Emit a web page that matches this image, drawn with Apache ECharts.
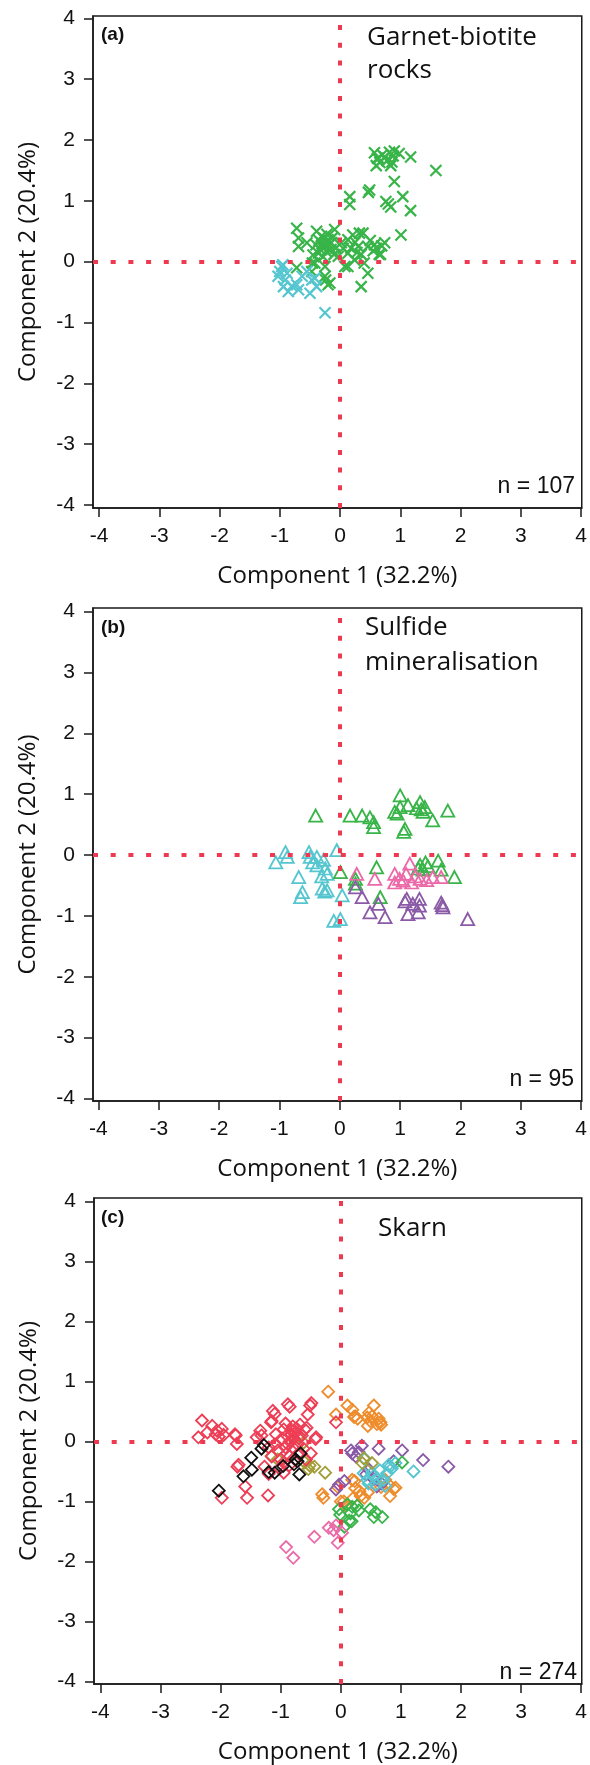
<!DOCTYPE html>
<html>
<head>
<meta charset="utf-8">
<script src="https://cdn.jsdelivr.net/npm/echarts@6/dist/echarts.min.js"></script>
<style>
html,body{margin:0;padding:0;background:#fff;}
#chart{width:590px;height:1765px;}
</style>
</head>
<body>
<div id="chart"></div>
<script>
// ---------- DATA ----------
const tickValues = [-4, -3, -2, -1, 0, 1, 2, 3, 4];
const xTitle = 'Component 1 (32.2%)';
const yTitle = 'Component 2 (20.4%)';
const panelLabels = ['(a)', '(b)', '(c)'];
const panelTitles = [['Garnet-biotite', 'rocks'], ['Sulfide', 'mineralisation'], ['Skarn']];
const panelCounts = ['n = 107', 'n = 95', 'n = 274'];

// Panel (a) Garnet-biotite rocks (crosses)
const aGreen = [
  [0.57,1.79],[0.62,1.70],[0.70,1.76],[0.66,1.63],[0.74,1.72],[0.82,1.80],[0.90,1.82],[0.98,1.78],
  [0.60,1.58],[0.78,1.66],[0.86,1.64],[0.88,1.74],[0.64,1.70],[0.84,1.58],[1.17,1.72],[1.59,1.50],
  [0.90,1.32],[0.49,1.18],[0.47,1.14],[0.16,1.07],[0.16,0.94],[0.76,0.99],[0.84,0.90],[0.80,0.95],
  [1.04,1.07],[1.17,0.84],[1.01,0.44],
  [-0.72,0.55],[-0.69,0.39],[-0.69,0.25],[-0.55,0.31],[-0.39,0.50],[-0.31,0.42],[-0.20,0.36],[-0.09,0.53],
  [-0.25,0.25],[-0.36,0.14],[-0.15,0.20],[0.02,0.31],[0.13,0.36],[0.21,0.44],[0.38,0.47],[0.30,0.25],
  [0.46,0.25],[0.57,0.28],[0.74,0.31],[0.65,0.12],[0.13,0.14],[0.35,0.12],[-0.03,0.09],[0.08,-0.08],
  [-0.25,-0.08],[-0.42,-0.02],[-0.47,-0.16],[-0.72,-0.10],[-0.25,-0.24],[-0.17,-0.35],[0.46,-0.19],
  [0.35,-0.41],[0.13,-0.08],[0.24,0.03],[0.40,-0.02],[-0.31,0.25],[-0.23,0.17],[-0.15,0.31],[-0.07,0.22],
  [-0.28,0.08],[-0.45,0.11],[0.69,0.26],[0.67,0.12],[0.32,0.47],[-0.24,-0.30],[-0.20,-0.38],[-0.46,-0.02],
  [-0.35,0.35],[-0.30,0.30],[-0.26,0.38],[-0.33,0.20],[-0.18,0.28],[-0.12,0.40],[-0.40,0.28],[-0.22,0.45],
  [0.05,0.22],[0.18,0.22],[0.25,0.32],[0.28,0.15],[0.55,0.18],[0.50,0.35],[0.60,0.22],[-0.10,0.12]
];
const aCyan = [
  [-0.97,-0.08],[-1.00,-0.16],[-1.03,-0.24],[-0.88,-0.19],[-0.94,-0.41],[-0.86,-0.49],[-0.72,-0.38],
  [-0.69,-0.46],[-0.55,-0.16],[-0.50,-0.52],[-0.39,-0.41],[-0.42,-0.27],[-0.47,-0.30],[-0.25,-0.84],
  [-0.91,-0.30],[-0.63,-0.24],[-0.95,-0.05],[-0.80,-0.40]
];

// Panel (b) Sulfide mineralisation (triangles)
const bCyan = [
  [-1.06,-0.12],[-0.90,0.05],[-0.87,-0.03],[-0.51,0.05],[-0.49,-0.03],[-0.38,-0.03],[-0.38,-0.17],
  [-0.27,-0.08],[-0.24,-0.22],[-0.21,-0.31],[-0.05,0.08],[-0.68,-0.36],[-0.62,-0.61],[-0.65,-0.69],
  [-0.29,-0.55],[-0.21,-0.58],[0.04,-0.66],[-0.10,-1.08],[0.01,-1.05],[-0.45,-0.12],[-0.30,-0.35],[-0.25,-0.60]
];
const bGreen = [
  [-0.40,0.65],[0.17,0.65],[0.37,0.65],[0.50,0.62],[0.56,0.54],[0.56,0.46],[1.00,0.98],[0.91,0.71],
  [1.00,0.79],[1.13,0.82],[1.33,0.87],[1.41,0.79],[1.38,0.71],[1.54,0.57],[1.79,0.73],[1.08,0.43],
  [1.06,0.38],[1.27,0.77],[0.95,0.68],[1.35,0.75],
  [0.01,-0.28],[0.26,-0.39],[0.26,-0.47],[0.61,-0.20],[0.67,-0.69],[1.33,-0.16],[1.46,-0.18],
  [1.63,-0.09],[1.38,-0.24],[1.90,-0.36],[1.68,-0.24],[1.30,-0.22],[1.42,-0.12]
];
const bPink = [
  [0.28,-0.31],[0.58,-0.39],[0.91,-0.31],[0.91,-0.45],[0.99,-0.39],[1.16,-0.14],[1.19,-0.45],
  [1.33,-0.39],[1.54,-0.36],[1.68,-0.36],[1.10,-0.31],[1.44,-0.41],[1.05,-0.42],[1.25,-0.35]
];
const bPurple = [
  [0.26,-0.53],[0.37,-0.69],[0.50,-0.94],[0.64,-0.80],[0.75,-1.02],[1.11,-0.72],[1.13,-0.97],
  [1.30,-0.94],[1.32,-0.72],[1.32,-0.83],[1.68,-0.78],[1.71,-0.86],[2.12,-1.05],[1.21,-0.80],
  [1.08,-0.76],[1.70,-0.82]
];

// Panel (c) Skarn (diamonds)
const cRed = [
  [-2.31,0.35],[-2.37,0.07],[-2.14,0.26],[-2.22,0.15],[-2.06,0.18],[-1.98,0.21],[-2.03,0.08],[-1.95,0.11],
  [-2.08,0.12],[-1.76,0.12],[-1.73,-0.04],[-1.34,0.18],[-1.40,0.07],[-1.13,0.51],[-1.15,0.34],[-0.88,0.62],
  [-0.49,0.64],[-0.55,0.45],[-0.41,0.07],[-1.70,-0.39],[-1.59,-0.75],[-1.56,-0.94],[-1.98,-0.94],
  [-1.21,-0.90],[-1.27,-0.42],[-0.51,0.60],[-0.85,0.58],[-1.10,0.46],[-1.16,0.32],[-1.32,0.10],
  [-1.75,0.10],[-1.72,-0.42],[-1.20,-0.54],[-0.42,0.04],[-0.57,0.23],[-0.08,0.32],
  [-0.95,0.20],[-0.90,0.10],[-0.85,0.00],[-0.80,-0.10],[-0.90,-0.20],[-1.00,-0.30],[-0.75,0.15],
  [-0.70,0.05],[-0.80,0.25],[-0.85,-0.25],[-1.05,-0.15],[-1.10,-0.05],[-0.95,-0.35],[-0.70,-0.20],
  [-0.65,0.10],[-0.78,0.05],[-0.88,-0.05],[-0.82,0.12],[-0.92,-0.10],[-0.98,0.05],[-0.72,-0.05],
  [-0.62,-0.12],[-0.60,0.20],[-1.02,-0.45],[-0.86,-0.40],[-1.15,-0.25],[-0.92,0.30],[-0.68,0.28],
  [-0.76,-0.30],[-1.08,0.12],[-0.58,-0.30],[-0.50,-0.20],[-1.20,-0.10],[-0.95,-0.52],[-0.82,0.18],[-0.74,0.22]
];
const cBlack = [
  [-2.03,-0.82],[-1.62,-0.58],[-1.48,-0.47],[-1.49,-0.27],[-1.28,-0.06],[-1.20,-0.51],[-1.10,-0.52],
  [-0.78,-0.38],[-0.72,-0.33],[-0.67,-0.20],[-0.69,-0.55],[-0.96,-0.41],[-0.75,-0.30],[-1.32,-0.12]
];
const cOlive = [
  [-1.15,-0.24],[-0.69,0.08],[-0.52,-0.40],[-0.44,-0.42],[-0.26,-0.52],[-0.54,-0.46],[0.38,-0.28],
  [0.52,-0.36],[0.36,-0.36],[-0.62,-0.02],[-1.05,-0.30],[-0.60,-0.35]
];
const cOrange = [
  [-0.21,0.83],[-0.08,0.45],[0.11,0.60],[0.19,0.53],[0.24,0.42],[0.28,0.38],[0.55,0.60],[0.47,0.48],
  [0.44,0.40],[0.49,0.34],[0.63,0.38],[0.66,0.32],[0.60,0.29],[0.45,0.26],[0.67,0.28],[0.22,0.41],[0.52,0.42],
  [-0.05,-0.76],[-0.29,-0.94],[-0.31,-0.88],[0.05,-1.00],[0.23,-0.66],[0.31,-0.83],[0.82,-0.91],
  [0.88,-0.79],[0.67,-0.76],[0.39,-0.94],[0.19,-0.64],[0.24,-0.78],[0.33,-0.91],[0.74,-0.64],
  [0.80,-0.72],[0.91,-0.77],[0.00,-1.00],[0.08,-1.07],[0.20,-0.95],[0.45,-0.85]
];
const cPurple = [
  [0.19,-0.20],[0.17,-0.15],[0.30,-0.18],[0.35,-0.07],[0.63,-0.12],[1.02,-0.15],[1.37,-0.31],[1.79,-0.42],
  [-0.08,-0.80],[-0.03,-0.72],[0.06,-0.66],[0.47,-0.47],[0.68,-0.70],[0.88,-0.33],[0.60,-0.75],
  [0.55,-0.63],[0.25,-0.25],[0.42,-0.55]
];
const cCyan = [
  [0.80,-0.39],[0.85,-0.45],[0.91,-0.36],[0.77,-0.53],[1.21,-0.50],[0.52,-0.53],[0.44,-0.64],[0.60,-0.61],
  [0.71,-0.64],[0.58,-0.72],[0.74,-0.74],[0.38,-0.53],[0.40,-0.29],[0.82,-0.42],[0.55,-0.57],[0.65,-0.48],[0.46,-0.70]
];
const cGreen = [
  [-0.03,-1.13],[0.11,-1.05],[0.19,-1.09],[0.27,-1.07],[0.14,-1.32],[0.06,-1.42],[0.49,-1.13],[0.58,-1.18],
  [0.55,-1.26],[0.69,-1.26],[1.02,-0.35],[-0.01,-1.22],[0.18,-1.33],[0.30,-1.15],[0.16,-1.20]
];
const cPink = [
  [-0.91,-1.76],[-0.79,-1.94],[-0.44,-1.59],[-0.20,-1.44],[-0.08,-1.40],[-0.05,-1.69],[0.02,-1.52],[-0.12,-1.48]
];

// ---------- STYLE / LAYOUT ----------
const COL = {
  green:'#38b449', cyan:'#55c6d0', pink:'#ec69a8', purple:'#8a5aa6',
  red:'#ee3d55', orange:'#ef8c2b', olive:'#a39d38', black:'#111111', refLine:'#ee3a50'
};
const grids = [
  {left:93, top:16,   width:493, height:492, x:[-4.1,4.01], y:[-4.05,4.04]},
  {left:93, top:608,  width:492, height:493, x:[-4.09,4.01], y:[-4.04,4.06]},
  {left:94, top:1198, width:493, height:497, x:[-4.107,4.01], y:[-4.044,4.06]}
];
const CROSS = 'path://M0,0L10,10M10,0L0,10';

const chart = echarts.init(document.getElementById('chart'), null, {renderer:'canvas'});

const gridOpts = grids.map(g => ({
  left:g.left, top:g.top, width:g.width, height:g.height,
  show:true, borderColor:'#1a1a1a', borderWidth:1.5, backgroundColor:'transparent', containLabel:false
}));

const axisCommon = {
  type:'value',
  splitLine:{show:false},
  axisLine:{show:true, onZero:false, lineStyle:{color:'#1a1a1a', width:1.5}},
  axisTick:{show:true, inside:false, length:9, lineStyle:{color:'#1a1a1a', width:1.5}, customValues:tickValues},
  axisLabel:{customValues:tickValues, fontFamily:'Liberation Sans', fontSize:21, color:'#111', margin:18,
             formatter:v => String(v)},
  nameLocation:'middle',
  nameTextStyle:{fontFamily:'Open Sans', fontSize:24, color:'#111'}
};

const xAxes = grids.map((g,i) => Object.assign({}, axisCommon, {
  gridIndex:i, min:g.x[0], max:g.x[1], name:xTitle, nameGap:56
}));
const yAxes = grids.map((g,i) => Object.assign({}, axisCommon, {
  gridIndex:i, min:g.y[0], max:g.y[1], name:yTitle, nameGap:53
}));

function scatter(i, data, color, symbol, size, bw) {
  return {
    type:'scatter', xAxisIndex:i, yAxisIndex:i, data:data,
    symbol:symbol, symbolSize:size, silent:true, animation:false,
    itemStyle:{color:'transparent', borderColor:color, borderWidth:bw, opacity:1}
  };
}
function refLines(i) {
  return {
    type:'scatter', xAxisIndex:i, yAxisIndex:i, data:[], silent:true, animation:false,
    markLine:{
      silent:true, animation:false, symbol:['none','none'], label:{show:false},
      lineStyle:{color:COL.refLine, width:4, type:[5,12.7], cap:'butt'},
      emphasis:{disabled:true},
      data:[{xAxis:0},{yAxis:0}]
    }
  };
}

const TRI = 'triangle', DIA = 'diamond';
const series = [
  refLines(0), refLines(1), refLines(2),
  scatter(0, aGreen, COL.green, CROSS, 11, 2.2),
  scatter(0, aCyan, COL.cyan, CROSS, 11, 2.2),
  scatter(1, bCyan, COL.cyan, TRI, [13,12], 1.8),
  scatter(1, bGreen, COL.green, TRI, [13,12], 1.8),
  scatter(1, bPink, COL.pink, TRI, [13,12], 1.8),
  scatter(1, bPurple, COL.purple, TRI, [13,12], 1.8),
  scatter(2, cOrange, COL.orange, DIA, 12, 1.8),
  scatter(2, cPurple, COL.purple, DIA, 12, 1.8),
  scatter(2, cCyan, COL.cyan, DIA, 12, 1.8),
  scatter(2, cGreen, COL.green, DIA, 12, 1.8),
  scatter(2, cPink, COL.pink, DIA, 12, 1.8),
  scatter(2, cOlive, COL.olive, DIA, 12, 1.8),
  scatter(2, cRed, COL.red, DIA, 12, 1.8),
  scatter(2, cBlack, COL.black, DIA, 12, 1.8)
];

// text annotations (positions relative to each panel)
const textPos = [
  {lab:[101,35], title:[367,38], lh:33, n:[575,487]},
  {lab:[101,628], title:[365,628], lh:35, n:[574,1080]},
  {lab:[101,1218], title:[378,1229], lh:33, n:[577,1673]}
];
const graphics = [];
textPos.forEach((p,i) => {
  graphics.push({type:'text', silent:true, style:{x:p.lab[0], y:p.lab[1], text:panelLabels[i],
    font:'bold 19px "Liberation Sans"', fill:'#111', textVerticalAlign:'middle'}});
  panelTitles[i].forEach((t,k) => {
    graphics.push({type:'text', silent:true, style:{x:p.title[0], y:p.title[1] + k*p.lh, text:t,
      font:'26px "Open Sans"', fill:'#111', textVerticalAlign:'middle'}});
  });
  graphics.push({type:'text', silent:true, style:{x:p.n[0], y:p.n[1], text:panelCounts[i],
    font:'23px "Liberation Sans"', fill:'#111', textAlign:'right', textVerticalAlign:'middle'}});
});

chart.setOption({
  animation:false,
  backgroundColor:'#ffffff',
  grid:gridOpts,
  xAxis:xAxes,
  yAxis:yAxes,
  series:series,
  graphic:graphics
});
</script>
</body>
</html>
